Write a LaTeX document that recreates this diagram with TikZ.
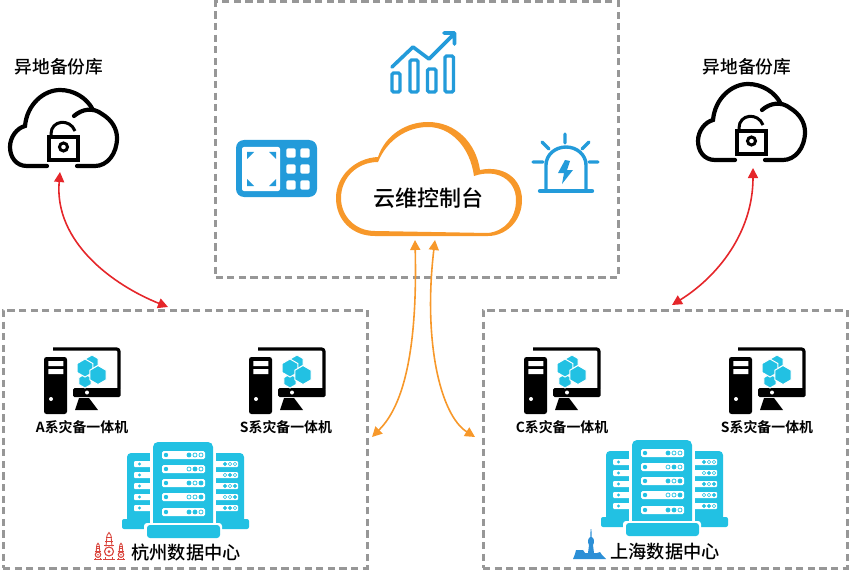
\documentclass[tikz,border=0pt]{standalone}
\usepackage{fontspec}
\setmainfont{Noto Sans CJK SC}[BoldFont={Noto Sans CJK SC Medium}]
\newfontfamily\heavycjk{Noto Sans CJK SC Bold}
\usetikzlibrary{arrows.meta}
\definecolor{cloudor}{HTML}{F7982A}
\definecolor{iconblue}{HTML}{239BDA}
\definecolor{srvblue}{HTML}{22C1E3}
\definecolor{linkred}{HTML}{E5262A}
\definecolor{panelgray}{HTML}{979797}
\definecolor{townred}{HTML}{D9433B}
\definecolor{cityblue}{HTML}{2C8FD6}
\tikzset{
panel/.style = {draw = panelgray, line width = 3pt, dash pattern = on 7.2pt off 4.4pt, inner sep = 0pt},
bigtext/.style = {font = \bfseries\fontsize{22}{24}\selectfont, inner sep = 0pt},
sitetext/.style = {font = \bfseries\fontsize{18.2}{20}\selectfont, inner sep = 0pt},
backuptext/.style = {font = \bfseries\fontsize{17.7}{20}\selectfont, inner sep = 0pt},
smalltext/.style = {font = \heavycjk\fontsize{13.9}{15}\selectfont, inner sep = 0pt},
twoway/.style = {line width = 1.6pt, {Triangle[width=10pt,length=10pt]}-{Triangle[width=10pt,length=10pt]}},
% black cloud with an open lock, origin at the left end of the cloud box
backup/.pic = {
\draw[line width = 4.2pt, line cap = round] (37,76) -- (17,76) .. controls (6,76) and (0,67) .. (0,57) .. controls (0,47) and (7,38) .. (15,36) .. controls (17,14) and (34,0) .. (50,0) .. controls (64,0) and (77,8) .. (83,20);
\draw[line width = 4.2pt, line cap = round] (64,26) .. controls (72,19) and (83,17) .. (92,24) .. controls (102,30) and (107,39) .. (107,48) .. controls (107,64) and (97,76) .. (85,76) -- (67,76);
\draw[line width = 3.2pt] (39,47) rectangle (68,70);
\draw[line width = 3pt] (41,47) -- (41,44) .. controls (41,30) and (60,28) .. (65,41);
\draw[line width = 3pt] (53.5,57) circle (4);
},
% desktop with the block mark on its screen
desk/.pic = {
\fill[rounded corners = 2.5pt] (0,10) rectangle (23,67);
\fill[white] (4.3,14) rectangle (19.3,19) (4.3,22) rectangle (19.3,27);
\fill[white] (7,52) circle (2);
\draw[line width = 3.2pt, rounded corners = 2.5pt] (9,2) -- (75,2) -- (75,42);
\fill[rounded corners = 1.5pt] (29,41) rectangle (76.6,50);
\fill[white] (43,45.5) circle (2);
\fill (35,51) -- (45,51) -- (54,63) -- (31,63) -- cycle;
\foreach \cx/\cy/\rr in {48/15/7, 41/34/7, 41/21/9, 54/28/9.5}{
\fill[srvblue, draw = white, line width = 1pt, shift = {(\cx,\cy)}] (90:\rr) -- (30:\rr) -- (-30:\rr) -- (-90:\rr) -- (-150:\rr) -- (150:\rr) -- cycle;
}
},
% rack group, origin at the left of the left base
racks/.pic = {
\fill[srvblue, rounded corners = 4pt] (5,18) rectangle (40,90);
\fill[srvblue, rounded corners = 4pt] (86,18) rectangle (122,90);
\fill[srvblue, rounded corners = 2pt] (0,84) rectangle (36,94);
\fill[srvblue, rounded corners = 2pt] (93,84) rectangle (127,94);
\foreach \y/\p/\q/\r in {29/srvblue/white/white, 40/white/srvblue/white, 51/srvblue/white/srvblue, 62/white/white/srvblue, 73/srvblue/srvblue/white}{
\fill[white, rounded corners = 1pt] (12,\y-3) rectangle (40,\y+3);
\fill[white, rounded corners = 1pt] (90,\y-3) rectangle (116,\y+3);
\fill[srvblue] (17.5,\y) circle (1.7);
\draw[srvblue, fill = \p, line width = .6pt] (103,\y) circle (1.7);
\draw[srvblue, fill = \q, line width = .6pt] (108,\y) circle (1.7);
\draw[srvblue, fill = \r, line width = .6pt] (113,\y) circle (1.7);
}
\fill[white] (28,4) rectangle (94,92);
\fill[srvblue, rounded corners = 5pt] (31,7) rectangle (91,95);
\fill[white, rounded corners = 3pt] (22,88) rectangle (100,106);
\fill[srvblue, rounded corners = 3pt] (25,90) rectangle (98,103);
\foreach \y/\p/\q/\r in {20/srvblue/white/white, 34/white/srvblue/white, 48/srvblue/white/srvblue, 62/white/white/srvblue, 77/srvblue/srvblue/white}{
\fill[white, rounded corners = 1.5pt] (40,\y-4) rectangle (83,\y+4);
\fill[srvblue] (44,\y) circle (2.2);
\draw[srvblue, fill = \p, line width = .7pt] (67,\y) circle (2);
\draw[srvblue, fill = \q, line width = .7pt] (73,\y) circle (2);
\draw[srvblue, fill = \r, line width = .7pt] (79,\y) circle (2);
}
},
% small pagoda, origin at its foot
pagoda/.pic = {
\draw[townred, line width = 1.1pt] (-6,0) -- (6,0) (-3.5,0) -- (-3.5,-3) (3.5,0) -- (3.5,-3);
\draw[townred, line width = 1.1pt] (0,-8) circle (4.5);
\fill[townred] (0,-8) circle (1.5);
\draw[townred, line width = 1.1pt] (-5,-14) -- (5,-14) (-4,-18) -- (4,-18) (-3,-22) -- (3,-22);
\draw[townred, line width = .9pt] (-3,-13) -- (-2,-24) -- (0,-27) -- (2,-24) -- (3,-13);
}
}
\begin{document}
\begin{tikzpicture}[x = 1pt, y = -1pt]
\useasboundingbox (0,0) rectangle (850,572);
\node[panel, minimum width = 403pt, minimum height = 275pt] (console) at (417,139.5) {};
\node[panel, minimum width = 364pt, minimum height = 258pt] (hangzhou) at (185,439) {};
\node[panel, minimum width = 364pt, minimum height = 258pt] (shanghai) at (665,439) {};

% console cloud
\fill[cloudor, even odd rule] (375,236) .. controls (352,236) and (336,220) .. (336,198) .. controls (336,176) and (355,158) .. (378,157) .. controls (385,136) and (405,122) .. (428,122) .. controls (456,122) and (476,143) .. (480,170) .. controls (503,165) and (522,178) .. (522,200) .. controls (522,222) and (505,236) .. (488,236) -- cycle
(375,231) .. controls (355,231) and (341,216) .. (341,198) .. controls (341,178) and (357,162) .. (378,162) .. controls (387,140) and (407,127) .. (428,127) .. controls (451,127) and (470,147) .. (474,176) .. controls (497,168) and (516,180) .. (516,200) .. controls (516,218) and (505,231) .. (488,233) -- cycle;
\node[bigtext] (consoletext) at (428,198) {云维控制台};

% chart icon
\draw[iconblue, line width = 3.4pt, rounded corners = 1.5pt] (392,73) rectangle (400,92) (410,60) rectangle (418,92) (427.5,69) rectangle (436,92) (445,56) rectangle (453.5,92);
\draw[iconblue, line width = 3.6pt, line cap = round, line join = round] (392,67) -- (413,47) -- (429,59) -- (453,35) (444,33) -- (454.5,33) -- (454.5,44);

% view icon
\fill[iconblue, rounded corners = 8pt] (236,140) rectangle (317,197);
\fill[white, rounded corners = 2pt] (242,147) rectangle (280,191);
\fill[iconblue] (247,152) -- (254,152) -- (247,159) -- cycle (276,152) -- (269,152) -- (276,159) -- cycle (247,186) -- (254,186) -- (247,179) -- cycle (276,186) -- (269,186) -- (276,179) -- cycle;
\foreach \x in {291,305}{
\foreach \y in {153,169,185}{
\fill[white, rounded corners = 1.5pt] (\x-4.7,\y-4.7) rectangle (\x+4.7,\y+4.7);
}
}

% alarm icon
\draw[iconblue, line width = 4.4pt, line cap = round] (540,191) -- (592,191);
\draw[iconblue, line width = 3.4pt] (546,191) -- (546,165) .. controls (546,155) and (555,147) .. (566,147) .. controls (577,147) and (586,155) .. (586,165) -- (586,191);
\draw[iconblue, line width = 3.4pt, line cap = round] (565,134) -- (565,143) (542,142) -- (549,149) (589,142) -- (582,149) (533,162) -- (543,162) (589,162) -- (598,162);
\fill[iconblue] (565,160) -- (558,173) -- (564,173) -- (562,184) -- (573,170) -- (567,170) -- (570,161) -- cycle;

% off-site copies
\node[backuptext] (backupl) at (59,67) {异地备份库};
\node[backuptext] (backupr) at (747,67) {异地备份库};
\pic (cloudl) at (10,90) {backup};
\pic (cloudr) at (698,84) {backup};

% machines in both sites
\pic (deska) at (44,347) {desk};
\pic (desksl) at (249,347) {desk};
\pic (deskc) at (524,347) {desk};
\pic (desksr) at (729,347) {desk};
\node[smalltext] (texta) at (82,427) {A系灾备一体机};
\node[smalltext] (textsl) at (286,427) {S系灾备一体机};
\node[smalltext] (textc) at (562,427) {C系灾备一体机};
\node[smalltext] (textsr) at (767,427) {S系灾备一体机};
\pic (racksl) at (122,435) {racks};
\pic (racksr) at (601,433) {racks};

% site marks
\pic (towera) at (109,559.5) {pagoda};
\pic[scale = .6] (towerb) at (98,559.5) {pagoda};
\pic[scale = .6] (towerc) at (121,559.5) {pagoda};
\fill[cityblue] (573,559) -- (575,554) -- (576,550) -- (583,550) -- (585,553) -- (588,553) -- (589,545) .. controls (587,542) and (588,538) .. (590.3,537) -- (590.6,529) -- (591.4,529) -- (591.7,537) .. controls (594,538) and (595,542) .. (593,545) -- (594,553) -- (597,553) -- (600,552) -- (602,555) -- (606,559) -- cycle;
\node[sitetext] (sitel) at (186,552.5) {杭州数据中心};
\node[sitetext] (siter) at (665,551.5) {上海数据中心};

% links
\coordinate (lockl) at (60,172);
\coordinate (doorl) at (168,307);
\coordinate (lockr) at (753,168);
\coordinate (doorr) at (672,305);
\coordinate (cloudin) at (415,240);
\coordinate (cloudout) at (435,240);
\coordinate (hzin) at (372,437);
\coordinate (shin) at (475,437);
\draw[twoway, linkred] (lockl) .. controls +(-6,70) and +(-55,-22) .. (doorl);
\draw[twoway, linkred] (lockr) .. controls +(0,65) and +(45,-28) .. (doorr);
\draw[twoway, cloudor] (cloudin) .. controls +(3,130) and +(25,-25) .. (hzin);
\draw[twoway, cloudor] (cloudout) .. controls +(-12,100) and +(-35,-22) .. (shin);
\end{tikzpicture}
\end{document}
